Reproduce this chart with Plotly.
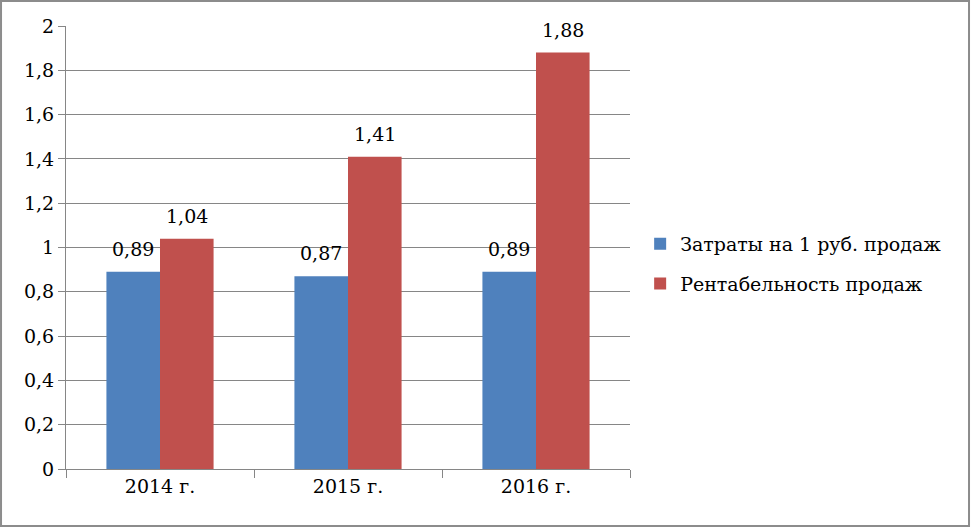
import plotly.graph_objects as go

categories = ["2014 г.", "2015 г.", "2016 г."]
costs = [0.89, 0.87, 0.89]
profitability = [1.04, 1.41, 1.88]
series_names = ["Затраты на 1 руб. продаж", "Рентабельность продаж"]
y_ticks = [0, 0.2, 0.4, 0.6, 0.8, 1, 1.2, 1.4, 1.6, 1.8, 2]

FONT = "DejaVu Serif"
SIZE = 19
GRID = "#868686"
colors = ["#4F81BD", "#C0504D"]

fig = go.Figure()
for name, vals, col, grp in [(series_names[0], costs, colors[0], "a"),
                             (series_names[1], profitability, colors[1], "b")]:
    fig.add_trace(go.Bar(x=categories, y=vals, name=name,
                         marker=dict(color=col, line=dict(width=0)),
                         legendgroup=grp))

# data labels, placed above the bars via the axis scales
for vals, shift in [(costs, -26.8), (profitability, 26.8)]:
    for cat, v in zip(categories, vals):
        fig.add_annotation(x=cat, y=v, text=f"{v:.2f}".replace(".", ","),
                           showarrow=False, xshift=shift, yshift=10,
                           yanchor="bottom", xanchor="center",
                           font=dict(size=SIZE, family=FONT, color="black"))

fig.update_layout(
    width=971, height=528,
    margin=dict(l=66, r=341, t=26, b=59),
    paper_bgcolor="white", plot_bgcolor="white",
    separators=", ",
    barmode="group", bargap=0.43, bargroupgap=0,
    font=dict(family=FONT, size=SIZE, color="black"),
    showlegend=True,
    legend=dict(x=1.018, y=0.463, xanchor="left", yanchor="middle",
                font=dict(size=SIZE, family=FONT), traceorder="grouped",
                tracegroupgap=12, itemwidth=30),
    xaxis=dict(showgrid=False, showline=True, linecolor=GRID, linewidth=1,
               ticks="outside", tickson="boundaries", ticklen=8, tickcolor=GRID,
               tickfont=dict(size=SIZE, family=FONT)),
    yaxis=dict(range=[0, 2], tickvals=y_ticks, tickformat="~r",
               showgrid=True, gridcolor=GRID, gridwidth=1,
               showline=True, linecolor=GRID, linewidth=1,
               ticks="outside", ticklen=7, tickcolor=GRID,
               zeroline=False, tickfont=dict(size=SIZE, family=FONT)),
    shapes=[dict(type="rect", xref="paper", yref="paper",
                 x0=-0.1152, x1=1.6011, y0=-0.1287, y1=1.0564,
                 line=dict(color="#8c8c8c", width=2))],
)

fig.write_html("out.html")
